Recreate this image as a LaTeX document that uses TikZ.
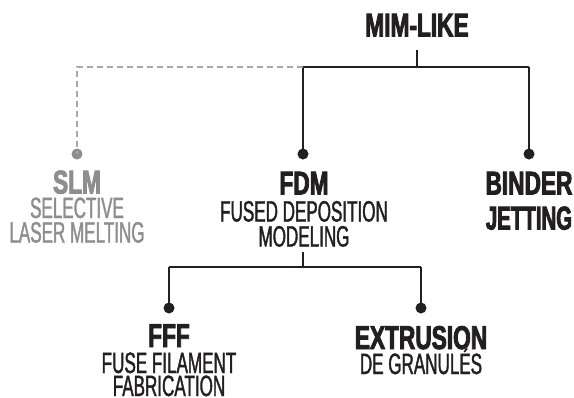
\documentclass[tikz,border=0pt]{standalone}
\usepackage{fontspec}
\newfontfamily\hfont[FakeStretch=0.69,FakeBold=2.6]{Liberation Sans}
\newfontfamily\rfont[FakeStretch=0.58,FakeBold=1.3]{Liberation Sans}
\definecolor{ink}{HTML}{231F20}
\definecolor{greytext}{HTML}{8E8E8E}
\definecolor{greyline}{HTML}{A8A8A8}
\begin{document}
\begin{tikzpicture}[x=1bp,y=-1bp,
  title/.style={font=\hfont\bfseries\fontsize{33}{33}\selectfont, anchor=base, inner sep=0pt, text=ink},
  sub/.style={font=\rfont\fontsize{29.5}{29.5}\selectfont, anchor=base, inner sep=0pt, text=ink},
  dot/.style={circle, fill=ink, minimum size=11bp, inner sep=0pt},
  link/.style={draw=ink, line width=1.5bp},
  dlink/.style={draw=greyline, line width=1.5bp, dash pattern=on 6bp off 4bp}]
\useasboundingbox (0,0) rectangle (574,397);
% top
\node[title] (mim) at (417,36.5) {MIM-LIKE};
\coordinate (mimstem) at (417,50);
\coordinate (j1) at (417,67);
\coordinate (jl) at (303,67);
\coordinate (jr) at (529,67);
\coordinate (js) at (77,67);
% dots
\node[dot, fill=greytext] (dslm) at (77,154) {};
\node[dot] (dfdm) at (303,154) {};
\node[dot] (dbin) at (529,154) {};
\node[dot] (dfff) at (169,308) {};
\node[dot] (dext) at (421,308) {};
% labels
\node[title, text=greytext] (slm) at (77,193.5) {SLM};
\node[sub, text=greytext] (slm1) at (77,218) {SELECTIVE};
\node[sub, text=greytext] (slm2) at (77,242.5) {LASER MELTING};
\node[title] (fdm) at (304,194.5) {FDM};
\node[sub] (fdm1) at (304,221.5) {FUSED DEPOSITION};
\node[sub] (fdm2) at (304,246.5) {MODELING};
\node[title] (bin) at (529,194.5) {BINDER};
\node[title] (bin2) at (529,229.5) {\scalebox{0.9}[1]{JETTING}};
\node[title] (fff) at (169,347) {FFF};
\node[sub] (fff1) at (169,373) {FUSE FILAMENT};
\node[sub] (fff2) at (169,396) {FABRICATION};
\node[title] (ext) at (421,349) {EXTRUSION};
\node[sub] (ext1) at (421,374) {DE GRANULÉS};
% connectors
\draw[link] (mimstem) -- (j1);
\draw[link] (jl) -- (jr);
\draw[link] (jl) -- (dfdm.center);
\draw[link] (jr) -- (dbin.center);
\draw[dlink] (jl) -- (js) -- (dslm.center);
\coordinate (fdmstem) at (303,252);
\coordinate (j2) at (303,267);
\coordinate (j2l) at (169,267);
\coordinate (j2r) at (421,267);
\draw[link] (fdmstem) -- (j2);
\draw[link] (j2l) -- (j2r);
\draw[link] (j2l) -- (dfff.center);
\draw[link] (j2r) -- (dext.center);
\end{tikzpicture}
\end{document}
